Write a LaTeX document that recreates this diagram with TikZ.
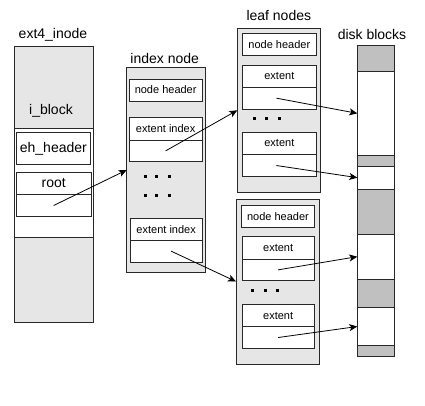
\documentclass[tikz,border=0pt]{standalone}
\usepackage{fontspec}
\setmainfont{Liberation Sans}
\usepackage{tikz}
\usetikzlibrary{arrows.meta, positioning}
\definecolor{panelgray}{RGB}{230,230,230}
\definecolor{diskgray}{RGB}{192,192,192}
\definecolor{boxline}{RGB}{40,40,40}
\tikzset{
  panel/.style={rectangle, draw=boxline, fill=panelgray, line width=0.9pt,
    anchor=north west, inner sep=0pt, outer sep=0pt},
  cell/.style={rectangle, draw=boxline, fill=white, line width=0.9pt,
    anchor=north west, inner sep=0pt, outer sep=0pt},
  ptr/.style={-{Stealth[length=8pt, width=7pt, inset=2pt]}, line width=0.8pt, color=black}
}

\begin{document}
\begin{tikzpicture}[x=1pt, y=-1pt,
  caption/.style={font=\fontsize{14}{16}\selectfont, anchor=base, inner sep=0pt},
  bigtxt/.style={font=\fontsize{14}{16}\selectfont},
  smalltxt/.style={font=\fontsize{11}{13}\selectfont},
  below cell/.style={cell, anchor=north, below=0pt of #1},
  dsk/.style={rectangle, draw=boxline, line width=0.9pt, anchor=north west,
    inner sep=0pt, outer sep=0pt, minimum width=37.4pt}]

  \useasboundingbox (0,0) rectangle (425,405);

  % ext4_inode
  \node[caption] (inodelbl) at (53,38.5) {ext4\_inode};
  \node[panel, minimum width=79pt, minimum height=276.7pt] (inode) at (14.3,46) {};
  \node[bigtxt] (iblklbl) at (51,111) {i\_block};
  \node[cell, minimum width=79pt, minimum height=109pt] (iblk) at (14.3,128.3) {};
  \node[cell, bigtxt, minimum width=74.7pt, minimum height=31.3pt] (ehhdr) at (16,132.7) {eh\_header};
  \node[cell, bigtxt, minimum width=75.3pt, minimum height=22pt] (root) at (16,172.3) {root};
  \node[below cell=root, minimum width=75.3pt, minimum height=22.4pt] (rootptr) {};

  % Index node
  \node[caption] (idxlbl) at (164.7,63.3) {index node};
  \node[panel, minimum width=78.3pt, minimum height=204.6pt] (idx) at (126.7,67.7) {};
  \node[cell, smalltxt, minimum width=72.7pt, minimum height=22pt] (idxhdr) at (129.3,79) {node header};
  \node[cell, smalltxt, minimum width=72.7pt, minimum height=22.7pt] (idxenta) at (129.3,117.3) {extent index};
  \node[below cell=idxenta, minimum width=72.7pt, minimum height=21.7pt] (idxptra) {};
  \node[cell, smalltxt, minimum width=72.3pt, minimum height=21.7pt] (idxentb) at (130,218.3) {extent index};
  \node[below cell=idxentb, minimum width=72.3pt, minimum height=22.3pt] (idxptrb) {};
  \foreach \y in {176.7,195}
    \foreach \x in {145,156.7,169}
      \fill (\x-1.5,\y-1.5) rectangle (\x+1.5,\y+1.5);

  % Leaf nodes
  \node[caption] (leaflbl) at (278.8,20.7) {leaf nodes};
  \node[panel, minimum width=83.4pt, minimum height=164pt] (leafa) at (237.3,28.3) {};
  \node[cell, smalltxt, minimum width=73.3pt, minimum height=22.4pt] (leafahdr) at (242.7,33.3) {node header};
  \node[cell, smalltxt, minimum width=73.3pt, minimum height=22.3pt] (leafaenta) at (242.7,65) {extent};
  \node[below cell=leafaenta, minimum width=73.3pt, minimum height=21.7pt] (leafaptra) {};
  \node[cell, smalltxt, minimum width=73.3pt, minimum height=22pt] (leafaentb) at (242.7,132.3) {extent};
  \node[below cell=leafaentb, minimum width=73.3pt, minimum height=22.4pt] (leafaptrb) {};
  \foreach \x in {254.3,266.7,279}
    \fill (\x-1.5,116.8) rectangle (\x+1.5,119.8);

  \node[panel, minimum width=83.3pt, minimum height=165pt] (leafb) at (236,199) {};
  \node[cell, smalltxt, minimum width=72.6pt, minimum height=22pt] (leafbhdr) at (241.7,205.7) {node header};
  \node[cell, smalltxt, minimum width=72.3pt, minimum height=22.3pt] (leafbenta) at (242,236.7) {extent};
  \node[below cell=leafbenta, minimum width=72.3pt, minimum height=21.7pt] (leafbptra) {};
  \node[cell, smalltxt, minimum width=72.3pt, minimum height=22.4pt] (leafbentb) at (242,304.3) {extent};
  \node[below cell=leafbentb, minimum width=72.3pt, minimum height=21.6pt] (leafbptrb) {};
  \foreach \x in {252.3,265,277.3}
    \fill (\x-1.5,288.5) rectangle (\x+1.5,291.5);

  % Disk blocks
  \node[caption] (disklbl) at (372,39) {disk blocks};
  \node[dsk, fill=diskgray, minimum height=26.7pt] (gapa) at (357.3,45) {};
  \node[dsk, fill=white, minimum height=83.3pt] (blka) at (357.3,71.7) {};
  \node[dsk, fill=diskgray, minimum height=11pt] (gapb) at (357.3,155) {};
  \node[dsk, fill=white, minimum height=23.3pt] (blkb) at (357.3,166) {};
  \node[dsk, fill=diskgray, minimum height=45pt] (gapc) at (357.3,189.3) {};
  \node[dsk, fill=white, minimum height=44.7pt] (blkc) at (357.3,234.3) {};
  \node[dsk, fill=diskgray, minimum height=28.3pt] (gapd) at (357.3,279) {};
  \node[dsk, fill=white, minimum height=38.4pt] (blkd) at (357.3,307.3) {};
  \node[dsk, fill=diskgray, minimum height=11pt] (gape) at (357.3,345.7) {};

  % Pointers
  \draw[ptr] (rootptr.center) -- (idx.west);
  \draw[ptr] (idxptra.center) -- (leafa.west);
  \draw[ptr] ([xshift=5pt]idxptrb.center) -- (leafb.west);
  \draw[ptr] ([xshift=-3pt]leafaptra.center) -- (blka.west);
  \draw[ptr] ([xshift=-3pt]leafaptrb.center) -- (blkb.west);
  \draw[ptr] (leafbptra.center) -- (blkc.west);
  \draw[ptr] (leafbptrb.center) -- (blkd.west);

\end{tikzpicture}
\end{document}
